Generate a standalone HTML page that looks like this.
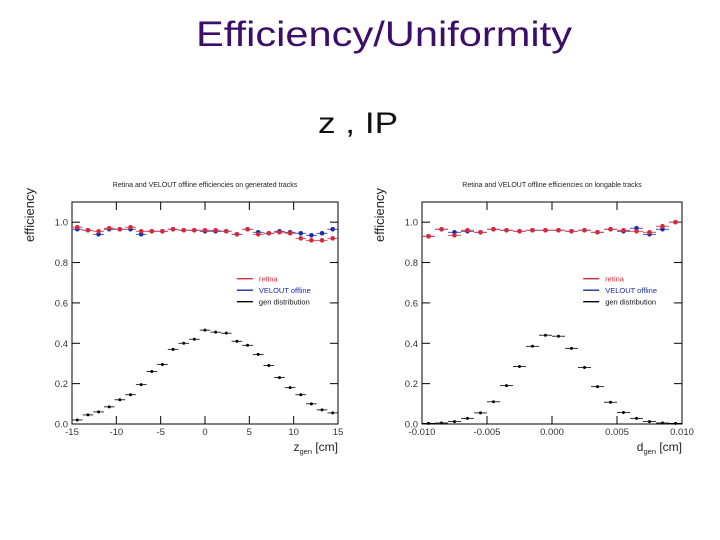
<!DOCTYPE html>
<html><head><meta charset="utf-8">
<style>
html,body{margin:0;padding:0;background:#fff;}
svg{display:block;font-family:"Liberation Sans",sans-serif;}
</style></head>
<body>
<svg id="s" width="720" height="540" viewBox="0 0 720 540">
<text x="196" y="46" font-size="35" fill="#3a0e6a" textLength="376" lengthAdjust="spacingAndGlyphs">Efficiency/Uniformity</text>
<text x="318" y="133" font-size="30" fill="#111" textLength="80" lengthAdjust="spacingAndGlyphs">z , IP</text>
</svg>
<script>
const leftGen=[0.02,0.045,0.06,0.085,0.12,0.145,0.195,0.26,0.295,0.37,0.4,0.42,0.465,0.455,0.45,0.41,0.39,0.345,0.29,0.23,0.18,0.145,0.1,0.07,0.055];
const leftRetina=[0.975,0.96,0.955,0.97,0.965,0.975,0.955,0.955,0.955,0.965,0.96,0.96,0.96,0.96,0.955,0.94,0.965,0.94,0.945,0.95,0.945,0.92,0.91,0.91,0.92];
const leftVelo=[0.965,0.96,0.94,0.965,0.965,0.965,0.94,0.955,0.955,0.965,0.96,0.96,0.955,0.955,0.955,0.94,0.965,0.95,0.945,0.955,0.95,0.945,0.935,0.945,0.965];
const leftXTicks=["-15","-10","-5","0","5","10","15"];
const rightGen=[0.003,0.005,0.012,0.028,0.055,0.11,0.19,0.285,0.385,0.44,0.435,0.375,0.28,0.185,0.108,0.057,0.028,0.012,0.005,0.003];
const rightRetina=[0.93,0.965,0.935,0.96,0.95,0.965,0.96,0.955,0.96,0.96,0.96,0.955,0.96,0.95,0.965,0.96,0.955,0.95,0.98,1.0];
const rightVelo=[0.93,0.965,0.95,0.955,0.95,0.965,0.96,0.955,0.96,0.96,0.96,0.955,0.96,0.95,0.965,0.955,0.97,0.94,0.965,1.0];
const rightXTicks=["-0.010","-0.005","0.000","0.005","0.010"];
const yTicks=["0.0","0.2","0.4","0.6","0.8","1.0"];

const NS="http://www.w3.org/2000/svg";
const svg=document.getElementById('s');
function mk(tag,attrs,parent,text){const e=document.createElementNS(NS,tag);for(const k in attrs)e.setAttribute(k,attrs[k]);if(text!==undefined)e.textContent=text;(parent||svg).appendChild(e);return e;}

function plot(id,x0,x1,y0,y1,xmin,xmax,gen,ret,vel,xt,title,xlab){
  const g=mk('g',{});
  
  
  const X=v=>x0+(v-xmin)/(xmax-xmin)*(x1-x0);
  const Y=v=>y1-(v/1.1)*(y1-y0);
  const fr=mk('rect',{x:x0,y:y0,width:x1-x0,height:y1-y0,fill:'none',stroke:'#000','stroke-width':1},g);
  
  const t=mk('text',{x:(x0+x1)/2,y:y0-15,'font-size':7,'text-anchor':'middle',fill:'#222'},g,title);
  
  const yl=mk('text',{x:0,y:0,'font-size':13,'text-anchor':'end',fill:'#222',transform:`translate(${x0-38},${y0-14}) rotate(-90)`},g,'efficiency');
  
  yTicks.forEach(s=>{const v=parseFloat(s),y=Y(v);
    mk('line',{x1:x0,x2:x0+8,y1:y,y2:y,stroke:'#000'},g);mk('line',{x1:x1,x2:x1-8,y1:y,y2:y,stroke:'#000'},g);
    const l=mk('text',{x:x0-4,y:y+3.5,'font-size':9.5,'text-anchor':'end',fill:'#333'},g,s);
    });
  xt.forEach(s=>{const v=parseFloat(s),x=X(v);
    mk('line',{x1:x,x2:x,y1:y1,y2:y1-8,stroke:'#000'},g);mk('line',{x1:x,x2:x,y1:y0,y2:y0+8,stroke:'#000'},g);
    const l=mk('text',{x:x,y:y1+11,'font-size':9.5,'text-anchor':'middle',fill:'#333'},g,s);
    });
  const xl=mk('text',{x:x1,y:y1+27,'font-size':12,'text-anchor':'end',fill:'#222'},g);
  mk('tspan',{},xl,xlab);
  mk('tspan',{'font-size':7.5,dy:3},xl,'gen');mk('tspan',{dy:-3},xl,' [cm]');
  
  function series(arr,col,name,r){
    const n=arr.length,w=(xmax-xmin)/n;
    arr.forEach((v,i)=>{const c=xmin+(i+0.5)*w;
      mk('line',{x1:X(c-w/2),x2:X(c+w/2),y1:Y(v),y2:Y(v),stroke:col,'stroke-width':0.8},g);
      const p=mk('circle',{cx:X(c),cy:Y(v),r:r,fill:col},g);
      });
  }
  series(vel,'#1a2aa8','velo-point',2.3);
  series(ret,'#d8283a','retina-point',2.3);
  series(gen,'#000','gen-point',1.5);
  const lx=x0+(x1-x0)*0.62, ly=Y(0.72);
  [['retina','#d8283a'],['VELOUT offline','#1a2aa8'],['gen distribution','#000']].forEach((e,i)=>{
    const yy=ly+i*11.5;
    mk('line',{x1:lx,x2:lx+16,y1:yy,y2:yy,stroke:e[1],'stroke-width':1.3},g);
    const tt=mk('text',{x:lx+22,y:yy+3,'font-size':7.5,fill:e[1]==='#000'?'#111':e[1]},g,e[0]);
    });
}
plot('left-chart',72,338,202,424,-15,15,leftGen,leftRetina,leftVelo,leftXTicks,'Retina and VELOUT offline efficiencies on generated tracks','z');
plot('right-chart',422,682,202,424,-0.01,0.01,rightGen,rightRetina,rightVelo,rightXTicks,'Retina and VELOUT offline efficiencies on longable tracks','d');
</script>
</body></html>
